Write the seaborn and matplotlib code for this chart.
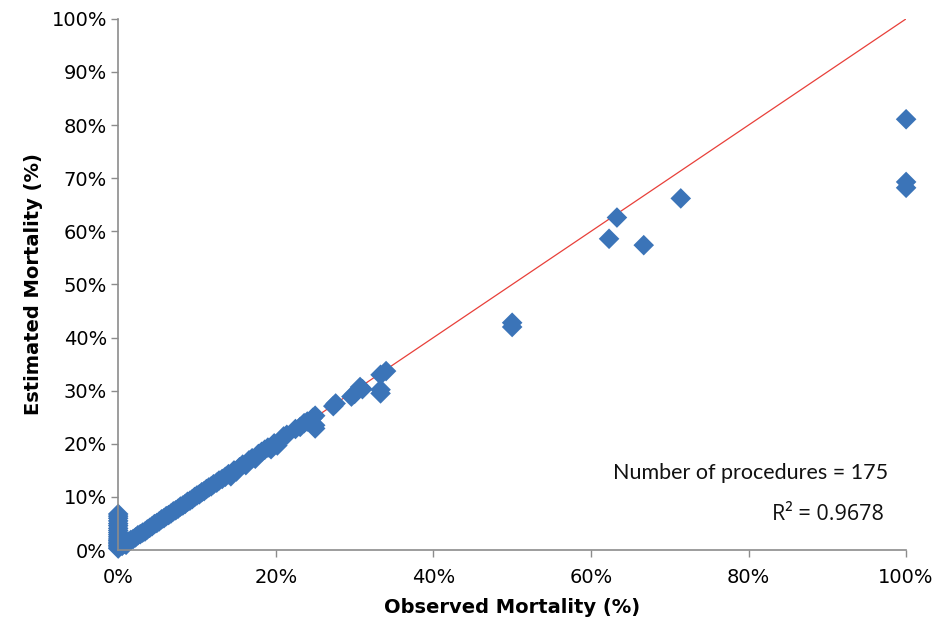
import matplotlib
matplotlib.use("Agg")
import matplotlib.pyplot as plt
from matplotlib.ticker import PercentFormatter, MultipleLocator
import seaborn as sns
import pandas as pd

# observed vs estimated mortality (%) per procedure
observed = [
    0, 0, 0, 0, 0, 0, 0, 0, 0, 0, 0, 0, 0, 0, 0, 0, 0, 0,
    0.5, 0.8, 1.0, 1.3, 1.6, 1.9, 2.2, 2.5, 2.8, 3.1, 3.4, 3.7, 4.0, 4.3,
    4.6, 4.9, 5.2, 5.5, 5.8, 6.1, 6.4, 6.7, 7.0, 7.3, 7.6, 7.9, 8.2, 8.5,
    8.8, 9.1, 9.4, 9.7, 10.0, 10.3, 10.6, 10.9, 11.2, 11.5, 11.8, 12.1,
    12.5, 12.8, 13.2, 13.6, 14.0, 14.3, 14.7, 15.0, 15.4, 15.8, 16.2, 16.6,
    17.0, 17.4, 17.8, 18.2, 18.6, 19.0, 19.4, 19.8, 20.2, 21.0, 21.4, 22.5,
    23.1, 23.6, 24.0, 24.7, 25.0, 25.0, 25.0,
    27.3, 27.6, 29.6, 30.0, 30.7, 31.0, 33.3, 33.3, 33.3, 34.0,
    50.0, 50.0, 62.3, 63.3, 66.7, 71.4, 100.0, 100.0, 100.0,
]
estimated = [
    0.3, 0.6, 0.9, 1.2, 1.5, 1.8, 2.1, 2.5, 2.9, 3.3, 3.7, 4.1, 4.6, 5.0, 5.5, 6.0, 6.4, 6.8,
    0.8, 1.2, 1.0, 1.6, 1.9, 2.1, 2.4, 2.8, 3.0, 3.3, 3.5, 3.9, 4.2, 4.5,
    4.9, 5.1, 5.4, 5.8, 6.0, 6.4, 6.6, 6.9, 7.3, 7.5, 7.8, 8.2, 8.4, 8.7,
    9.1, 9.3, 9.6, 10.0, 10.3, 10.5, 10.9, 11.1, 11.5, 11.8, 12.0, 12.4,
    12.7, 13.1, 13.4, 13.8, 14.3, 13.9, 15.0, 14.8, 15.6, 16.1, 16.0, 16.9,
    17.3, 17.2, 18.1, 18.5, 18.9, 19.3, 19.0, 20.1, 19.7, 21.4, 21.7, 22.8,
    23.2, 23.9, 24.2, 24.9, 25.3, 22.9, 23.5,
    27.1, 27.6, 28.9, 29.4, 30.7, 30.3, 33.0, 29.5, 30.2, 33.7,
    42.8, 42.0, 58.6, 62.6, 57.4, 66.2, 81.1, 69.3, 68.2,
]
n_label = "Number of procedures = 175"
r2_label = "R² = 0.9678"

df = pd.DataFrame({"observed": observed, "estimated": estimated})

sns.set_style("white")
plt.rcParams["font.family"] = ["DejaVu Sans"]

fig, ax = plt.subplots(figsize=(9.38, 6.28), dpi=100)
fig.subplots_adjust(left=0.126, right=0.966, bottom=0.124, top=0.970)

# identity line
ax.plot([0, 100], [0, 100], color="#E8403A", lw=0.9, zorder=1)

sns.scatterplot(data=df, x="observed", y="estimated", marker="D", s=110,
                color="#3B74B8", edgecolor="none", linewidth=0, ax=ax,
                clip_on=False, zorder=2)

ax.set_xlim(0, 100)
ax.set_ylim(0, 100)
ax.xaxis.set_major_locator(MultipleLocator(20))
ax.yaxis.set_major_locator(MultipleLocator(10))
ax.xaxis.set_major_formatter(PercentFormatter(decimals=0))
ax.yaxis.set_major_formatter(PercentFormatter(decimals=0))

for side in ["top", "right"]:
    ax.spines[side].set_visible(False)
for side in ["left", "bottom"]:
    ax.spines[side].set_color("#8C8C8C")
    ax.spines[side].set_linewidth(1.2)

ax.tick_params(axis="both", which="major", direction="out", length=5,
               width=1, color="#8C8C8C", labelsize=14, labelcolor="#000000",
               left=True, bottom=True)
ax.tick_params(axis="x", pad=8)
ax.tick_params(axis="y", pad=3)

ax.set_xlabel("Observed Mortality (%)", fontsize=14, fontweight="bold",
              labelpad=8, color="black")
ax.set_ylabel("Estimated Mortality (%)", fontsize=14, fontweight="bold",
              labelpad=6, color="black")

ax.text(97.7, 14.5, n_label, ha="right", va="center", fontsize=15.5,
        family=["Lato", "DejaVu Sans"], color="#111111")
ax.text(97.2, 6.8, r2_label, ha="right", va="center", fontsize=15.5,
        family=["Open Sans", "DejaVu Sans"], color="#111111")

fig.savefig("out.png", dpi=100)
